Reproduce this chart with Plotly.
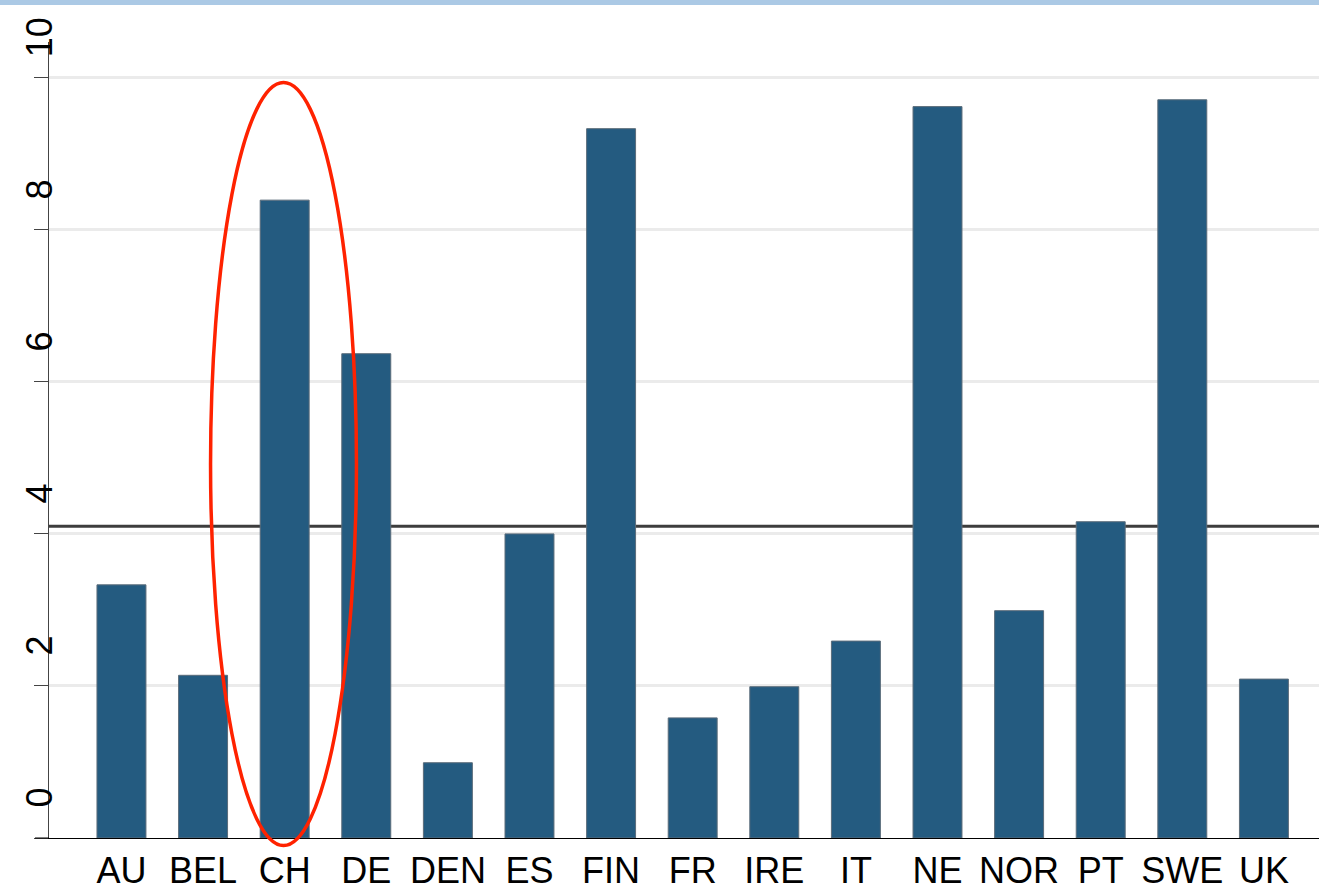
import plotly.graph_objects as go

# countries and values
countries = ['AU', 'BEL', 'CH', 'DE', 'DEN', 'ES', 'FIN', 'FR', 'IRE', 'IT',
             'NE', 'NOR', 'PT', 'SWE', 'UK']
values = [3.33, 2.14, 8.39, 6.37, 0.99, 4.0, 9.33, 1.58, 1.99, 2.59,
          9.62, 2.99, 4.16, 9.71, 2.09]
average = 4.1
y_ticks = [0, 2, 4, 6, 8, 10]

fig = go.Figure()
fig.add_trace(go.Bar(x=countries, y=values,
                     marker_color='#245b80',
                     marker_line=dict(color='#5b6c7a', width=1)))

# average line, behind the bars
fig.add_hline(y=average, line_color='#3d3d3d', line_width=3, layer='below')

# red ellipse around CH (paper refs so it isn't clipped at the axis)
fig.add_shape(type='circle', xref='paper', yref='paper',
              x0=0.1272, x1=0.2421, y0=-0.0094, y1=0.949,
              line=dict(color='#ff2200', width=3.5), layer='above')

# x axis line sticks out past the y axis, stata style
fig.add_shape(type='line', xref='paper', yref='paper',
              x0=-14 / 1270, x1=0, y0=0, y1=0,
              line=dict(color='black', width=1))

# bit of the slide header showing at the top
fig.add_shape(type='rect', xref='paper', yref='paper',
              x0=-0.05, x1=1.0, y0=1 + 37 / 796, y1=1 + 43 / 796,
              fillcolor='#abc9e5', line_width=0, layer='above')

fig.update_xaxes(type='category', range=[-0.888, 14.675], automargin=False,
                 showline=True, linecolor='black', linewidth=1,
                 ticks='', showgrid=False, ticklabelstandoff=1,
                 tickfont=dict(family='Liberation Sans, Arial', size=36, color='black'))
fig.update_yaxes(range=[0, 10.47], tickvals=y_ticks, automargin=False,
                 showline=True, linecolor='#444444', linewidth=1,
                 ticks='outside', ticklen=14, tickcolor='#444444', tickwidth=1,
                 showgrid=True, gridcolor='#ebebeb', gridwidth=3,
                 zeroline=False, tickangle=-90,
                 ticklabelshift=-35, ticklabelstandoff=-32,
                 tickfont=dict(family='Liberation Sans, Arial', size=36, color='black'))
fig.update_layout(width=1319, height=891, showlegend=False,
                  plot_bgcolor='white', paper_bgcolor='white',
                  bargap=0.4,
                  margin=dict(l=49, r=0, t=42, b=53))

fig.write_html("out.html", config={'displayModeBar': False},
               post_script="document.body.style.margin='0';")
